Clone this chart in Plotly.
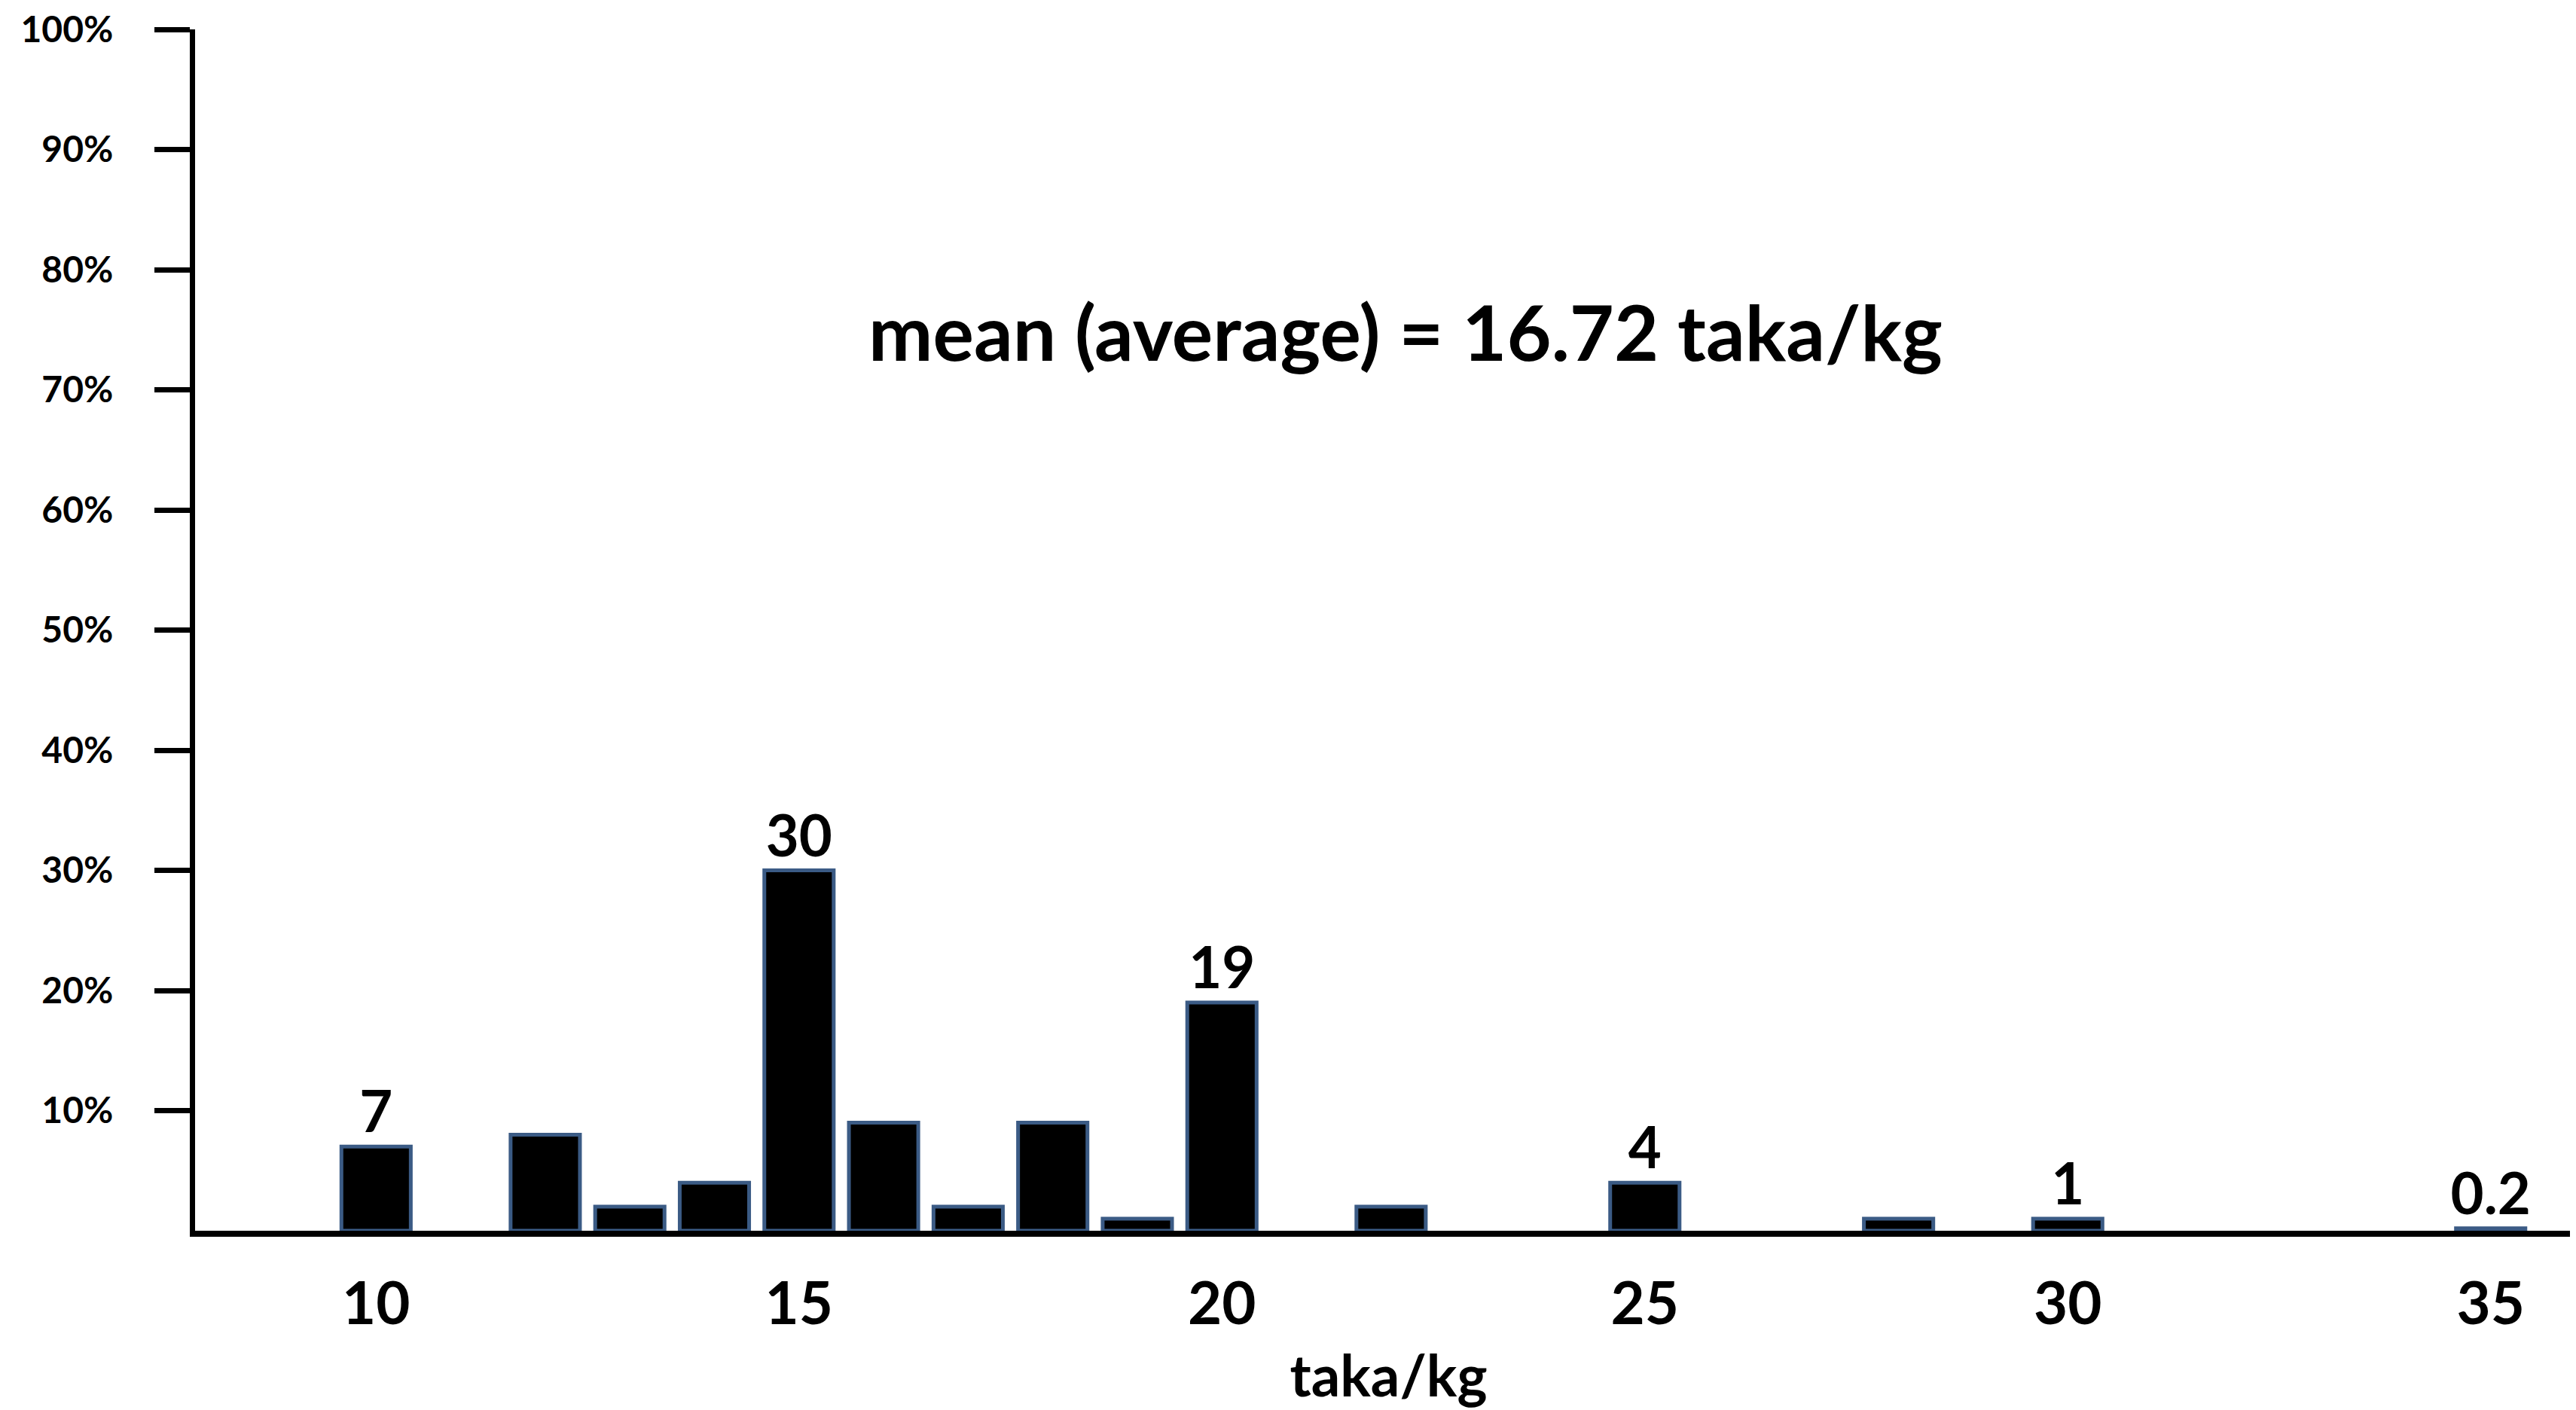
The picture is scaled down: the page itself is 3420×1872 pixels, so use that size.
import plotly.graph_objects as go

# Data
prices = [10, 12, 13, 14, 15, 16, 17, 18, 19, 20, 22, 25, 28, 30, 35]
shares = [7, 8, 2, 4, 30, 9, 2, 9, 1, 19, 2, 4, 1, 1, 0.2]
bar_labels = ["7", "", "", "", "30", "", "", "", "", "19", "", "4", "", "1", "0.2"]
y_tickvals = [10, 20, 30, 40, 50, 60, 70, 80, 90, 100]
y_ticktext = ["10%", "20%", "30%", "40%", "50%", "60%", "70%", "80%", "90%", "100%"]
x_tickvals = [10, 15, 20, 25, 30, 35]
x_ticktext = ["10", "15", "20", "25", "30", "35"]
mean_text = "mean (average) = 16.72 taka/kg"
x_title = "taka/kg"

FONT = "Lato, 'Open Sans', sans-serif"

fig = go.Figure()
fig.add_trace(go.Bar(
    x=prices, y=shares, width=0.82,
    marker=dict(color="black", line=dict(color="#3B5B85", width=5)),
    text=bar_labels, textposition="outside", constraintext="none",
    textfont=dict(family=FONT, size=76, color="black", weight="bold"),
    cliponaxis=False, showlegend=False,
))

fig.update_layout(
    width=3420, height=1872,
    margin=dict(l=251, r=0, t=31, b=246),
    paper_bgcolor="white", plot_bgcolor="white",
    font=dict(family=FONT, color="black"),
    bargap=0.1,
    xaxis=dict(
        range=[7.86, 36.08], showgrid=False, zeroline=False,
        showline=True, linecolor="black", linewidth=8,
        tickvals=x_tickvals, ticktext=x_ticktext, ticks="",
        ticklabelstandoff=22,
        tickfont=dict(family=FONT, size=78, color="black", weight="bold"),
        title=dict(text=x_title, standoff=30,
                   font=dict(family=FONT, size=76, color="black", weight="bold")),
    ),
    yaxis=dict(
        range=[0, 100], showgrid=False, zeroline=False,
        showline=True, linecolor="black", linewidth=7,
        tickvals=y_tickvals, ticktext=y_ticktext,
        ticks="outside", ticklen=47, tickwidth=7, tickcolor="black",
        ticklabelstandoff=45, ticklabeloverflow="allow",
        tickfont=dict(family=FONT, size=48, color="black", weight="bold"),
    ),
    annotations=[dict(
        text=mean_text, xref="paper", yref="paper", x=0.507, y=0.749,
        xanchor="center", yanchor="middle", showarrow=False,
        font=dict(family=FONT, size=102, color="black", weight="bold"),
    )],
)

fig.write_html("out.html")
